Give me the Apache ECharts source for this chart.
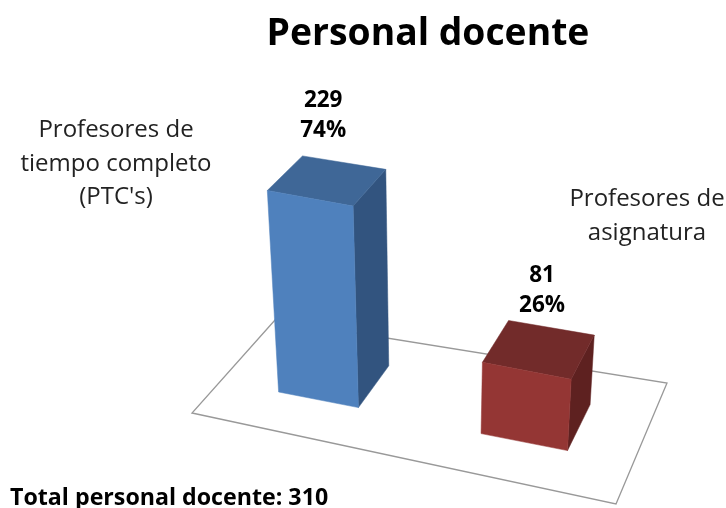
<!DOCTYPE html>
<html>
<head>
<meta charset="utf-8">
<style>html,body{margin:0;padding:0;background:#fff}#c{width:726px;height:508px;filter:blur(0.45px)}</style>
<script src="https://cdn.jsdelivr.net/npm/echarts@6/dist/echarts.min.js"></script>
</head>
<body>
<div id="c"></div>
<script>
var categories = ["Profesores de\ntiempo completo\n(PTC's)", "Profesores de\nasignatura"];
var values = [229, 81];
var percents = [74, 26];
var titleText = "Personal docente";
var totalText = "Total personal docente: 310";

var frontColors = ['#4f81bd', '#943634'];
var topColors = ['#3f6797', '#722b2a'];
var sideColors = ['#32547f', '#5e2120'];
var catLabelPos = [[116, 164], [647, 216]];
var valueLabelGap = [35, 29];
var valueLabelShift = [-4, 3];

// Floor quad (front-left, front-right, back-right, back-left) and its projection
var Q = [[192, 413], [616, 504], [667, 383], [275, 320]];
var FONT = '"Open Sans", Lato, sans-serif';
var GRID = { left: 192, top: 98, width: 424, height: 220 };
var BAR_U = [0.212, 0.19], BAR_V0 = [0.325, 0.309], BAR_V1 = [0.738, 0.706], U_SHIFT = 0.02;
var LEAN = 0.00037, LEAN_X = 430, BACK_SCALE = 0.975;

var H = (function () {
  var dx1 = Q[1][0] - Q[2][0], dx2 = Q[3][0] - Q[2][0], sx = Q[0][0] - Q[1][0] + Q[2][0] - Q[3][0];
  var dy1 = Q[1][1] - Q[2][1], dy2 = Q[3][1] - Q[2][1], sy = Q[0][1] - Q[1][1] + Q[2][1] - Q[3][1];
  var den = dx1 * dy2 - dx2 * dy1;
  var g = (sx * dy2 - dx2 * sy) / den, h = (dx1 * sy - sx * dy1) / den;
  return {
    a: Q[1][0] - Q[0][0] + g * Q[1][0], b: Q[3][0] - Q[0][0] + h * Q[3][0], c: Q[0][0],
    d: Q[1][1] - Q[0][1] + g * Q[1][1], e: Q[3][1] - Q[0][1] + h * Q[3][1], f: Q[0][1], g: g, h: h
  };
})();
function floorPt(u, v) {
  var w = H.g * u + H.h * v + 1;
  return [(H.a * u + H.b * v + H.c) / w, (H.d * u + H.e * v + H.f) / w];
}
function up(p, px) {
  // the picture's verticals converge slightly downward
  return [p[0] + px * LEAN * (p[0] - LEAN_X), p[1] - px];
}
function poly(pts, color) {
  return { type: 'polygon', shape: { points: pts }, style: { fill: color, stroke: color, lineWidth: 0.5 } };
}

var chart = echarts.init(document.getElementById('c'), null, { renderer: 'canvas' });
chart.setOption({
  animation: false,
  backgroundColor: '#fff',
  title: [
    { text: titleText, left: 423, top: 11, textAlign: 'center',
      textStyle: { fontFamily: FONT, fontSize: 37.3, fontWeight: 'bold', color: '#000' } },
    { text: totalText, left: 5, top: 482,
      textStyle: { fontFamily: FONT, fontSize: 23.2, fontWeight: 'bold', color: '#000' } }
  ],
  grid: GRID,
  xAxis: { type: 'category', data: categories, show: false },
  yAxis: { type: 'value', min: 0, max: 250, show: false },
  series: [
    {
      type: 'custom', silent: true, clip: false, z: 1,
      data: [0],
      renderItem: function () {
        var pts = [floorPt(0, 0), floorPt(1, 0), floorPt(1, 1), floorPt(0, 1)];
        return { type: 'polygon', shape: { points: pts }, style: { fill: '#fff', stroke: '#999', lineWidth: 1.3 } };
      }
    },
    {
      type: 'custom', silent: true, clip: false, z: 2,
      encode: { x: 0, y: 1 },
      data: values.map(function (v, i) { return [i, v]; }),
      renderItem: function (params, api) {
        var i = api.value(0), val = api.value(1);
        var top = api.coord([i, val]), base = api.coord([i, 0]);
        var px = base[1] - top[1];
        var u = (base[0] - GRID.left) / GRID.width + U_SHIFT;
        var u0 = u - BAR_U[i] / 2, u1 = u + BAR_U[i] / 2;
        var fl = floorPt(u0, BAR_V0[i]), fr = floorPt(u1, BAR_V0[i]), br = floorPt(u1, BAR_V1[i]), bl = floorPt(u0, BAR_V1[i]);
        var tfl = up(fl, px), tfr = up(fr, px), tbr = up(br, px * BACK_SCALE), tbl = up(bl, px * BACK_SCALE);
        var cx = (tfl[0] + tfr[0] + tbr[0] + tbl[0]) / 4, cy = (tfl[1] + tfr[1] + tbr[1] + tbl[1]) / 4;
        return {
          type: 'group',
          children: [
            poly([fr, br, tbr, tfr], sideColors[i]),
            poly([tfl, tfr, tbr, tbl], topColors[i]),
            poly([fl, fr, tfr, tfl], frontColors[i]),
            { type: 'text', style: { text: val + '\n' + percents[i] + '%', x: cx + valueLabelShift[i], y: cy - valueLabelGap[i],
              align: 'center', verticalAlign: 'bottom', fill: '#000',
              fontFamily: FONT, fontSize: 22.5, fontWeight: 'bold', lineHeight: 30 } },
            { type: 'text', style: { text: categories[i], x: catLabelPos[i][0], y: catLabelPos[i][1],
              align: 'center', verticalAlign: 'middle', fill: '#222',
              fontFamily: FONT, fontSize: 24, lineHeight: 33.5 } }
          ]
        };
      }
    }
  ]
});
</script>
</body>
</html>
